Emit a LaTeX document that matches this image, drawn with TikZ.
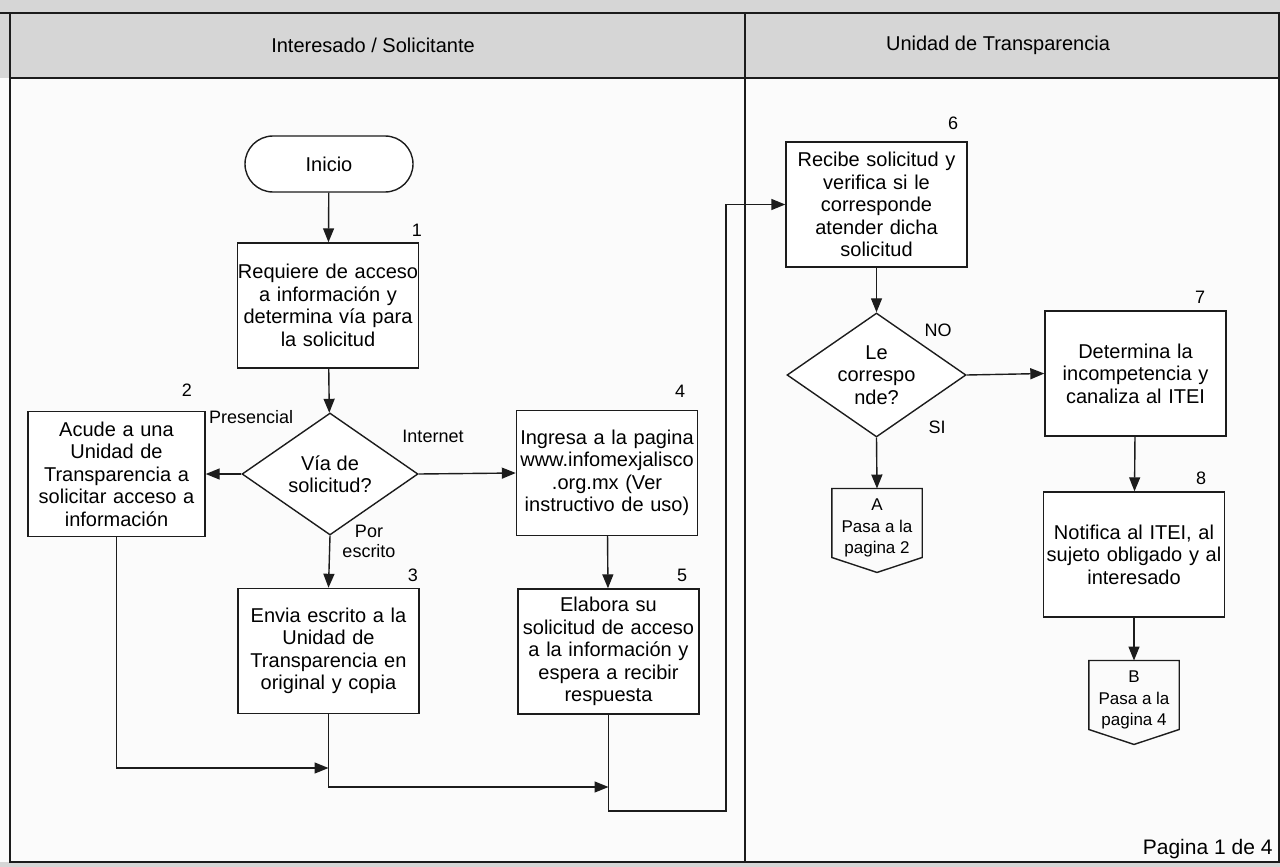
\documentclass[tikz,border=0pt]{standalone}
\usepackage{fontspec}
\setmainfont{Liberation Sans}
\usetikzlibrary{arrows.meta,calc,shapes.geometric}
\definecolor{ink}{HTML}{1C1C1C}
\definecolor{band}{HTML}{D6D6D6}
\definecolor{paper}{HTML}{FBFBFB}
\newcommand{\boxfont}{\fontsize{20}{22.5}\selectfont}
\newcommand{\tagfont}{\fontsize{18}{20}\selectfont}

\tikzset{
 lane/.style={draw=ink,line width=2.6pt},
 proc/.style={draw=ink,line width=1.4pt,fill=white,minimum width=181pt,minimum height=125pt,inner sep=0pt,text width=181pt,align=center,font=\boxfont},
 decide/.style={draw=ink,line width=1.4pt,fill=white,diamond,aspect=1.44,inner sep=0pt,align=center,font=\boxfont},
 term/.style={draw=ink,line width=1.4pt,fill=white,rounded corners=28pt,minimum width=168pt,minimum height=56pt,font=\boxfont},
 offpage/.style={minimum width=90pt,minimum height=64pt,inner sep=0pt,align=center,font=\fontsize{17}{21.5}\selectfont},
 num/.style={font=\fontsize{18}{20}\selectfont,inner sep=0pt},
 tag/.style={font=\tagfont,inner sep=0pt,align=center},
 flow/.style={draw=ink,line width=1.4pt,->}
}

\begin{document}
\begin{tikzpicture}[x=1pt,y=-1pt,>={Triangle[length=14pt,width=11pt]}]
\useasboundingbox (0,0) rectangle (1280,867);
% page and lanes
\fill[paper] (0,0) rectangle (1280,867);
\fill[band] (0,0) rectangle (1280,78);
\fill[band] (0,862) rectangle (1280,867);
\draw[lane] (0,13) -- (1280,13);
\draw[lane] (10,78) -- (1280,78);
\draw[lane] (10,13) -- (10,862) -- (1280,862);
\draw[lane] (745,13) -- (745,862);
\draw[lane] (1279,13) -- (1279,862);
\node[font=\fontsize{20}{24}\selectfont] (hSol) at (373,45) {Interesado / Solicitante};
\node[font=\fontsize{20}{24}\selectfont] (hUT) at (998,45) {Unidad de Transparencia};

% interesado / solicitante
\node[term] (inicio) at (329,164) {Inicio};
\node[proc] (req) at (328,305.5) {Requiere de acceso\\a información y\\determina vía para\\la solicitud};
\node[decide,minimum width=176pt,minimum height=122pt] (via) at (330,474) {Vía de\\solicitud?};
\node[proc,minimum width=177pt,text width=177pt] (acude) at (116.5,474) {Acude a una\\Unidad de\\Transparencia a\\solicitar acceso a\\información};
\node[proc,minimum width=180pt] (ingresa) at (607,473) {Ingresa a la pagina\\www.infomexjalisco\\.org.mx (Ver\\instructivo de uso)};
\node[proc] (envia) at (328.5,651) {Envia escrito a la\\Unidad de\\Transparencia en\\original y copia};
\node[proc,minimum width=179pt] (elabora) at (608.5,651.5) {Elabora su\\solicitud de acceso\\a la información y\\espera a recibir\\respuesta};

% unidad de transparencia
\node[proc] (recibe) at (876.5,204.5) {Recibe solicitud y\\verifica si le\\corresponde\\atender dicha\\solicitud};
\node[decide,minimum width=179pt,minimum height=124pt] (corresp) at (876.5,375) {Le\\correspo\\nde?};
\node[proc] (determina) at (1135.5,373.5) {Determina la\\incompetencia y\\canaliza al ITEI};
\node[proc] (notifica) at (1134,554.5) {Notifica al ITEI, al\\sujeto obligado y al\\interesado};
\node[offpage] (pasaA) at (877,523) {\rule{0pt}{22pt}A\\Pasa a la\\pagina 2};
\node[offpage] (pasaB) at (1134,695) {\rule{0pt}{22pt}B\\Pasa a la\\pagina 4};
\foreach \p in {pasaA,pasaB}
 \draw[draw=ink,line width=1.4pt] (\p.north west) -- (\p.north east) -- (\p.south east)
  -- ($(\p.south)+(0,15)$) -- (\p.south west) -- cycle;

% step numbers
\foreach \n/\x/\y in {1/417/230,2/187/390,3/413/575,4/680/391,5/682/575,6/953/123,7/1200/297,8/1201/478}
 \node[num] (n\n) at (\x,\y) {\n};

% branch labels
\node[tag,anchor=west] (lPres) at (209,417) {Presencial};
\node[tag] (lInt) at (433,436) {Internet};
\node[tag] (lEsc) at (369,541) {Por\\escrito};
\node[tag] (lNo) at (938,330) {NO};
\node[tag] (lSi) at (937,427) {SI};

% connectors
\coordinate (j1) at (328.5,768);
\coordinate (j2) at (608.5,787);
\coordinate (j3) at (726,811);
\draw[flow] (inicio) -- (req);
\draw[flow] (req) -- (via);
\draw[flow] (via.west) -- (acude.east);
\draw[flow] (via.east) -- (ingresa.west);
\draw[flow] (via.south) -- (envia.north);
\draw[flow] (ingresa) -- (elabora);
\draw[flow] (acude.south) |- (j1);
\draw[flow] (envia.south) |- (j2);
\draw[flow] (elabora.south) |- (j3) |- (recibe.west);
\draw[flow] (recibe) -- (corresp);
\draw[flow] (corresp.east) -- (determina.west);
\draw[flow] (corresp.south) -- (pasaA.north);
\draw[flow] (determina) -- (notifica);
\draw[flow] (notifica) -- (pasaB);

\node[font=\fontsize{21}{24}\selectfont,anchor=east] (pagina) at (1276,849) {Pagina 1 de 4};
\end{tikzpicture}
\end{document}
